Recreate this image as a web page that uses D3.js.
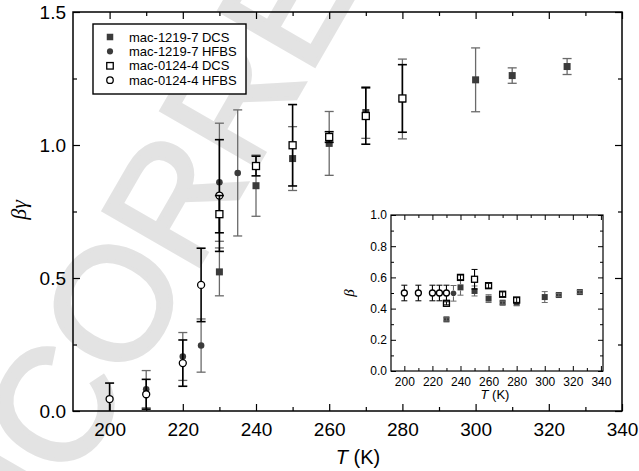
<!DOCTYPE html>
<html>
<head>
<meta charset="utf-8">
<script src="https://cdn.jsdelivr.net/npm/d3@7"></script>
<style>
  body { margin: 0; background: #fff; }
  text { font-family: "Liberation Sans", Arial, Helvetica, sans-serif; }
</style>
</head>
<body>
<script>
// chart values
let legendLabels = ["mac-1219-7 DCS", "mac-1219-7 HFBS", "mac-0124-4 DCS", "mac-0124-4 HFBS"];
let mainXTicks = [200, 220, 240, 260, 280, 300, 320, 340];
let mainYTicks = [0, 0.5, 1.0, 1.5];
let insetXTicks = [200, 220, 240, 260, 280, 300, 320, 340];
let insetYTicks = [0, 0.2, 0.4, 0.6, 0.8, 1.0];

// main panel: beta*gamma
let dcs1219T = [230, 240, 250, 260, 270, 280, 300, 310, 325];
let dcs1219Y = [0.523, 0.847, 0.949, 1.006, 1.122, 1.173, 1.245, 1.261, 1.295];
let dcs1219Err = [0.09, 0.115, 0.12, 0.12, 0.097, 0.15, 0.12, 0.029, 0.03];

let hfbs1219T = [210, 220, 225, 230, 235];
let hfbs1219Y = [0.082, 0.205, 0.246, 0.86, 0.895];
let hfbs1219Err = [0.07, 0.09, 0.1, 0.222, 0.237];

let hfbs0124T = [200, 210, 220, 225, 230];
let hfbs0124Y = [0.045, 0.063, 0.18, 0.474, 0.81];
let hfbs0124Err = [0.06, 0.056, 0.087, 0.138, 0.21];

let dcs0124T = [230, 240, 250, 260, 270, 280];
let dcs0124Y = [0.74, 0.921, 0.999, 1.03, 1.109, 1.175];
let dcs0124Err = [0.07, 0.037, 0.153, 0.02, 0.106, 0.127];

// inset: beta
let betaDcs1219T = [230, 240, 250, 260, 270, 280, 300, 310, 325];
let betaDcs1219 = [0.331, 0.536, 0.513, 0.464, 0.438, 0.438, 0.474, 0.487, 0.506];
let betaDcs1219Err = [0.01, 0.05, 0.032, 0.025, 0.01, 0.02, 0.035, 0.01, 0.01];

let betaHfbs1219T = [235];
let betaHfbs1219 = [0.498];
let betaHfbs1219Err = [0.05];

let betaHfbs0124T = [200, 210, 220, 225, 230];
let betaHfbs0124 = [0.5, 0.5, 0.5, 0.5, 0.5];
let betaHfbs0124Err = [0.05, 0.05, 0.05, 0.05, 0.05];

let betaDcs0124T = [230, 240, 250, 260, 270, 280];
let betaDcs0124 = [0.434, 0.60, 0.588, 0.547, 0.492, 0.455];
let betaDcs0124Err = [0.01, 0.015, 0.063, 0.015, 0.015, 0.015];

let w = 639, h = 471;
let dark = "#3b3b3b", grey = "#6a6a6a";

let svg = d3.select("body").append("svg")
  .attr("width", w)
  .attr("height", h);

// "uncorrected proof" watermark behind everything
svg.append("text")
  .attr("transform", "translate(-43,685) rotate(-60)")
  .attr("font-size", 160)
  .attr("fill", "#e3e3e3")
  .attr("stroke", "#e3e3e3")
  .attr("stroke-width", 4)
  .text("UNCORRECTED PROOF");

function zip(ts, vs, es) {
  return ts.map((t, i) => ({ t: t, v: vs[i], e: es[i] }));
}

function marker(g, kind, cx, cy, s) {
  if (kind === "fsq" || kind === "osq") {
    g.append("rect")
      .attr("x", cx - s / 2).attr("y", cy - s / 2)
      .attr("width", s).attr("height", s)
      .attr("fill", kind === "fsq" ? dark : "#fff")
      .attr("stroke", kind === "fsq" ? "none" : "#000")
      .attr("stroke-width", 1.3);
  } else {
    g.append("circle")
      .attr("cx", cx).attr("cy", cy)
      .attr("r", kind === "fci" ? s / 2 - 0.2 : s / 2)
      .attr("fill", kind === "fci" ? dark : "#fff")
      .attr("stroke", kind === "fci" ? "none" : "#000")
      .attr("stroke-width", 1.3);
  }
}

// error bar: full vertical line plus caps
function errBar(g, x, y, d, color, cap, width) {
  let cx = x(d.t);
  g.append("line")
    .attr("x1", cx).attr("x2", cx)
    .attr("y1", y(d.v - d.e)).attr("y2", y(d.v + d.e))
    .attr("stroke", color).attr("stroke-width", width);
  [d.v - d.e, d.v + d.e].forEach(v => {
    g.append("line")
      .attr("x1", cx - cap).attr("x2", cx + cap)
      .attr("y1", y(v)).attr("y2", y(v))
      .attr("stroke", color).attr("stroke-width", width);
  });
}

function addAxes(g, x, y, o) {
  let bot = y.range()[0], top = y.range()[1];
  let left = x.range()[0], right = x.range()[1];
  let sets = [
    { ax: d3.axisBottom(x), pos: `translate(0,${bot})`, vals: o.xMajor, size: o.major, lab: true, fmt: d3.format("d"), pad: o.xPad },
    { ax: d3.axisBottom(x), pos: `translate(0,${bot})`, vals: o.xMinor, size: o.minor, lab: false },
    { ax: d3.axisTop(x), pos: `translate(0,${top})`, vals: o.xMajor, size: o.major, lab: false },
    { ax: d3.axisTop(x), pos: `translate(0,${top})`, vals: o.xMinor, size: o.minor, lab: false },
    { ax: d3.axisLeft(y), pos: `translate(${left},0)`, vals: o.yMajor, size: o.major, lab: true, fmt: d3.format(".1f"), pad: o.yPad },
    { ax: d3.axisLeft(y), pos: `translate(${left},0)`, vals: o.yMinor, size: o.minor, lab: false },
    { ax: d3.axisRight(y), pos: `translate(${right},0)`, vals: o.yMajor, size: o.major, lab: false },
    { ax: d3.axisRight(y), pos: `translate(${right},0)`, vals: o.yMinor, size: o.minor, lab: false }
  ];
  sets.forEach(s => {
    let a = s.ax.tickValues(s.vals).tickSize(-s.size);
    if (s.lab) a.tickFormat(s.fmt).tickPadding(s.pad);
    else a.tickFormat("");
    let ga = g.append("g").attr("transform", s.pos).call(a);
    ga.select(".domain").remove();
    ga.selectAll("line").attr("stroke", "#000").attr("stroke-width", o.tickW);
    ga.selectAll("text").attr("font-size", o.font).attr("fill", "#000")
      .style("font-family", "'Liberation Sans', Arial, sans-serif");
  });
  g.append("rect")
    .attr("x", left).attr("y", top)
    .attr("width", right - left).attr("height", bot - top)
    .attr("fill", "none").attr("stroke", "#000").attr("stroke-width", o.frameW);
}

// ---------- main panel ----------
let x = d3.scaleLinear().domain([190, 340]).range([73, 622]);
let y = d3.scaleLinear().domain([0, 1.5]).range([411, 12]);

svg.append("defs").append("clipPath").attr("id", "clipMain")
  .append("rect").attr("x", 73).attr("y", 12).attr("width", 549).attr("height", 399);

let main = svg.append("g");
addAxes(main, x, y, {
  xMajor: mainXTicks, xMinor: d3.range(210, 340, 20),
  yMajor: mainYTicks, yMinor: [0.25, 0.75, 1.25],
  major: 7, minor: 4, font: 19, xPad: 12, yPad: 7, tickW: 1.2, frameW: 1.5
});

let marks = svg.append("g").attr("clip-path", "url(#clipMain)");
let mainSeries = [
  { data: zip(dcs1219T, dcs1219Y, dcs1219Err), kind: "fsq", col: grey, bw: 1.3 },
  { data: zip(hfbs1219T, hfbs1219Y, hfbs1219Err), kind: "fci", col: grey, bw: 1.3 },
  { data: zip(hfbs0124T, hfbs0124Y, hfbs0124Err), kind: "oci", col: "#000", bw: 1.6 },
  { data: zip(dcs0124T, dcs0124Y, dcs0124Err), kind: "osq", col: "#000", bw: 1.6 }
];
mainSeries.forEach(s => {
  let g = marks.append("g");
  s.data.forEach(d => errBar(g, x, y, d, s.col, 4.5, s.bw));
  s.data.forEach(d => marker(g, s.kind, x(d.t), y(d.v), 7));
});

// legend
let legKinds = ["fsq", "fci", "osq", "oci"];
let leg = svg.append("g");
leg.append("rect").attr("x", 93).attr("y", 24).attr("width", 153).attr("height", 70)
  .attr("fill", "#fff").attr("stroke", "#000").attr("stroke-width", 1.4);
legendLabels.forEach((lab, i) => {
  let ry = 37 + i * 14.4;
  marker(leg, legKinds[i], 110, ry, 6.5);
  leg.append("text").attr("x", 129).attr("y", ry + 4.6)
    .attr("font-size", 13).text(lab);
});

// axis titles
let xt = svg.append("text").attr("x", 358).attr("y", 464)
  .attr("text-anchor", "middle").attr("font-size", 20);
xt.append("tspan").attr("font-style", "italic").text("T");
xt.append("tspan").text(" (K)");

svg.append("text")
  .attr("transform", "translate(26,210) rotate(-90)")
  .attr("text-anchor", "middle").attr("font-size", 22)
  .attr("font-style", "italic")
  .style("font-family", "'Liberation Serif', 'DejaVu Serif', serif")
  .text("βγ");

// ---------- inset ----------
let xi = d3.scaleLinear().domain([190.5, 341.5]).range([391, 603]);
let yi = d3.scaleLinear().domain([0, 1]).range([371, 215]);

let inset = svg.append("g");
inset.append("rect").attr("x", 391).attr("y", 215).attr("width", 212).attr("height", 156)
  .attr("fill", "#fff");
addAxes(inset, xi, yi, {
  xMajor: insetXTicks, xMinor: d3.range(210, 340, 20),
  yMajor: insetYTicks, yMinor: [0.1, 0.3, 0.5, 0.7, 0.9],
  major: 5, minor: 3, font: 12, xPad: 6, yPad: 4, tickW: 1, frameW: 1.2
});

let insetSeries = [
  { data: zip(betaDcs1219T, betaDcs1219, betaDcs1219Err), kind: "fsq", col: grey },
  { data: zip(betaHfbs1219T, betaHfbs1219, betaHfbs1219Err), kind: "fci", col: grey },
  { data: zip(betaHfbs0124T, betaHfbs0124, betaHfbs0124Err), kind: "oci", col: "#000" },
  { data: zip(betaDcs0124T, betaDcs0124, betaDcs0124Err), kind: "osq", col: "#000" }
];
insetSeries.forEach(s => {
  let g = inset.append("g");
  s.data.forEach(d => marker(g, s.kind, xi(d.t), yi(d.v), 6));
  // bars sit on top; long ones start at the marker edge
  s.data.forEach(d => {
    let cx = xi(d.t), cy = yi(d.v);
    let up = yi(d.v + d.e), dn = yi(d.v - d.e);
    if (cy - up > 3) {
      g.append("line").attr("x1", cx).attr("x2", cx).attr("y1", up).attr("y2", cy - 3)
        .attr("stroke", s.col).attr("stroke-width", 1.1);
      g.append("line").attr("x1", cx).attr("x2", cx).attr("y1", cy + 3).attr("y2", dn)
        .attr("stroke", s.col).attr("stroke-width", 1.1);
    } else {
      g.append("line").attr("x1", cx).attr("x2", cx).attr("y1", up).attr("y2", dn)
        .attr("stroke", s.col).attr("stroke-width", 1);
    }
    [up, dn].forEach(yy => g.append("line")
      .attr("x1", cx - 3).attr("x2", cx + 3).attr("y1", yy).attr("y2", yy)
      .attr("stroke", s.col).attr("stroke-width", 1));
  });
});

let xti = svg.append("text").attr("x", 495).attr("y", 399)
  .attr("text-anchor", "middle").attr("font-size", 13);
xti.append("tspan").attr("font-style", "italic").text("T");
xti.append("tspan").text(" (K)");

svg.append("text")
  .attr("transform", "translate(354,293) rotate(-90)")
  .attr("text-anchor", "middle").attr("font-size", 15)
  .attr("font-style", "italic")
  .style("font-family", "'Liberation Serif', 'DejaVu Serif', serif")
  .text("β");
</script>
</body>
</html>
